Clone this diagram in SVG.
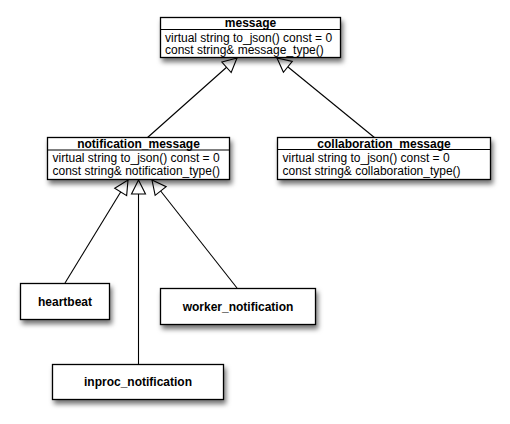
<svg xmlns="http://www.w3.org/2000/svg" width="510" height="424" viewBox="0 0 510 424">
<style>
.box{fill:#fff;stroke:#000;stroke-width:1.3;filter:url(#sh)}
.div{stroke:#000;stroke-width:1.1}
.t{font-family:"Liberation Sans",Arial,sans-serif;font-size:12px;fill:#000}
.b{font-weight:bold;text-anchor:middle}
.c{fill:none;stroke:#000;stroke-width:1.1;marker-end:url(#tri)}
</style>
<defs>
<filter id="sh" x="-20%" y="-20%" width="140%" height="160%">
<feDropShadow dx="2" dy="4" stdDeviation="2.5" flood-color="#000" flood-opacity="0.55"/>
</filter>
<marker id="tri" viewBox="0 0 14 14" refX="14" refY="7" markerWidth="14" markerHeight="14" markerUnits="userSpaceOnUse" orient="auto" overflow="visible">
<path d="M0,0 L14,7 L0,14 Z" fill="#fff" stroke="#000" stroke-width="1.1"/>
</marker>
</defs>
<rect width="510" height="424" fill="#fff"/>
<g id="connectors">
<path class="c" d="M147,138 L237,58"/>
<path class="c" d="M375,138 L277,58"/>
<path class="c" d="M65,283 L128,180"/>
<path class="c" d="M138.5,364 L138.5,180"/>
<path class="c" d="M237,288 L152,180"/>
</g>
<g id="message">
<rect class="box" x="160.5" y="17.5" width="180" height="40"/>
<line class="div" x1="160.5" y1="29.5" x2="340.5" y2="29.5"/>
<text class="t b" x="250.5" y="26.5">message</text>
<text class="t" x="165" y="41.5">virtual string to_json() const = 0</text>
<text class="t" x="165" y="54">const string&amp; message_type()</text>
</g>
<g id="notification_message">
<rect class="box" x="47.5" y="137.5" width="182" height="42"/>
<line class="div" x1="47.5" y1="150" x2="229.5" y2="150"/>
<text class="t b" x="138.5" y="148">notification_message</text>
<text class="t" x="52.5" y="161.5">virtual string to_json() const = 0</text>
<text class="t" x="52.5" y="175">const string&amp; notification_type()</text>
</g>
<g id="collaboration_message">
<rect class="box" x="277.5" y="137.5" width="213" height="42"/>
<line class="div" x1="277.5" y1="149.5" x2="490.5" y2="149.5"/>
<text class="t b" x="384" y="148">collaboration_message</text>
<text class="t" x="282.5" y="161.5">virtual string to_json() const = 0</text>
<text class="t" x="282.5" y="175">const string&amp; collaboration_type()</text>
</g>
<g id="heartbeat">
<rect class="box" x="20.5" y="283.5" width="89" height="36"/>
<text class="t b" x="65" y="306">heartbeat</text>
</g>
<g id="worker_notification">
<rect class="box" x="160.5" y="288.5" width="155" height="36"/>
<text class="t b" x="238" y="310.5">worker_notification</text>
</g>
<g id="inproc_notification">
<rect class="box" x="52.5" y="364.5" width="171" height="35"/>
<text class="t b" x="138" y="386">inproc_notification</text>
</g>
</svg>
